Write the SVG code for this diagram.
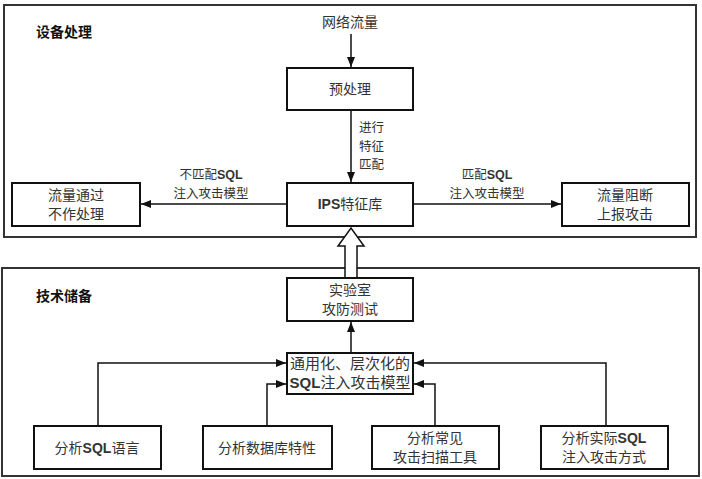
<svg xmlns="http://www.w3.org/2000/svg" width="702" height="479" viewBox="0 0 702 479">
<defs>
<style>
.panel{fill:none;stroke:#333;stroke-width:2}
.box{fill:#fff;stroke:#111;stroke-width:2}
.t{font-family:"Noto Sans CJK SC","Liberation Sans",sans-serif;font-size:14px;fill:#333;text-anchor:middle}
.lb{font-family:"Noto Sans CJK SC","Liberation Sans",sans-serif;font-size:12.5px;fill:#333;text-anchor:middle}
.lv{font-family:"Noto Sans CJK SC","Liberation Sans",sans-serif;font-size:12.5px;fill:#333;text-anchor:start}
.title{font-family:"Noto Sans CJK SC","Liberation Sans",sans-serif;font-size:14px;font-weight:bold;fill:#111}
.b{font-family:"Liberation Sans",Arial,sans-serif;font-weight:bold}
.ln{fill:none;stroke:#111;stroke-width:1.5}
</style>
<marker id="ah" markerUnits="userSpaceOnUse" markerWidth="11" markerHeight="9" refX="10" refY="4" orient="auto">
<path d="M0,0 L10,4 L0,8 z" fill="#111"/>
</marker>
</defs>
<rect class="panel" x="4" y="5" width="692" height="232"/>
<rect class="panel" x="2" y="268" width="697" height="208"/>
<text class="title" x="36" y="37">设备处理</text>
<text class="title" x="36" y="301">技术储备</text>

<g id="connectors">
<line class="ln" x1="351" y1="34" x2="351" y2="67" marker-end="url(#ah)"/>
<line class="ln" x1="351" y1="110" x2="351" y2="182" marker-end="url(#ah)"/>
<line class="ln" x1="287" y1="204" x2="141" y2="204" marker-end="url(#ah)"/>
<line class="ln" x1="413" y1="204" x2="561" y2="204" marker-end="url(#ah)"/>
<polygon points="345,278 345,246 338,246 351,228 364,246 357,246 357,278" fill="#fff" stroke="#111" stroke-width="1.5"/>
<line class="ln" x1="351" y1="353" x2="351" y2="322" marker-end="url(#ah)"/>
<polyline class="ln" points="98,426 98,363 286,363" marker-end="url(#ah)"/>
<polyline class="ln" points="267,426 267,384 286,384" marker-end="url(#ah)"/>
<polyline class="ln" points="435,426 435,384 414,384" marker-end="url(#ah)"/>
<polyline class="ln" points="606,426 606,363 414,363" marker-end="url(#ah)"/>
<text class="t" x="350" y="27">网络流量</text>
<text class="lv" x="359" y="132">进行</text>
<text class="lv" x="359" y="150.5">特征</text>
<text class="lv" x="359" y="169">匹配</text>
<text class="lb" x="211" y="179">不匹配<tspan class="b">SQL</tspan></text>
<text class="lb" x="211" y="197.5">注入攻击模型</text>
<text class="lb" x="487" y="179">匹配<tspan class="b">SQL</tspan></text>
<text class="lb" x="487" y="197.5">注入攻击模型</text>
</g>

<g id="preprocess">
<rect class="box" x="287" y="68" width="126" height="42"/>
<text class="t" x="350" y="94">预处理</text>
</g>
<g id="ips">
<rect class="box" x="287" y="183" width="126" height="43"/>
<text class="t" x="350" y="209"><tspan class="b">IPS</tspan>特征库</text>
</g>
<g id="pass">
<rect class="box" x="12" y="183" width="128" height="43"/>
<text class="t" x="76" y="200">流量通过</text>
<text class="t" x="76" y="219">不作处理</text>
</g>
<g id="block">
<rect class="box" x="562" y="183" width="127" height="43"/>
<text class="t" x="625" y="200">流量阻断</text>
<text class="t" x="625" y="219">上报攻击</text>
</g>
<g id="lab">
<rect class="box" x="287" y="278" width="126" height="43"/>
<text class="t" x="350" y="295">实验室</text>
<text class="t" x="350" y="314">攻防测试</text>
</g>
<g id="model">
<rect class="box" x="287" y="353" width="126" height="41"/>
<text class="t" x="350" y="369" style="font-size:15px">通用化、层次化的</text>
<text class="t" x="350" y="388" style="font-size:15px"><tspan class="b">SQL</tspan>注入攻击模型</text>
</g>
<g id="sqllang">
<rect class="box" x="34" y="426" width="127" height="43"/>
<text class="t" x="97" y="453">分析<tspan class="b">SQL</tspan>语言</text>
</g>
<g id="dbfeat">
<rect class="box" x="203" y="426" width="129" height="43"/>
<text class="t" x="267" y="453">分析数据库特性</text>
</g>
<g id="scantools">
<rect class="box" x="372" y="426" width="127" height="43"/>
<text class="t" x="435" y="443">分析常见</text>
<text class="t" x="435" y="462">攻击扫描工具</text>
</g>
<g id="actual">
<rect class="box" x="541" y="426" width="127" height="43"/>
<text class="t" x="604" y="443">分析实际<tspan class="b">SQL</tspan></text>
<text class="t" x="604" y="462">注入攻击方式</text>
</g>
</svg>
